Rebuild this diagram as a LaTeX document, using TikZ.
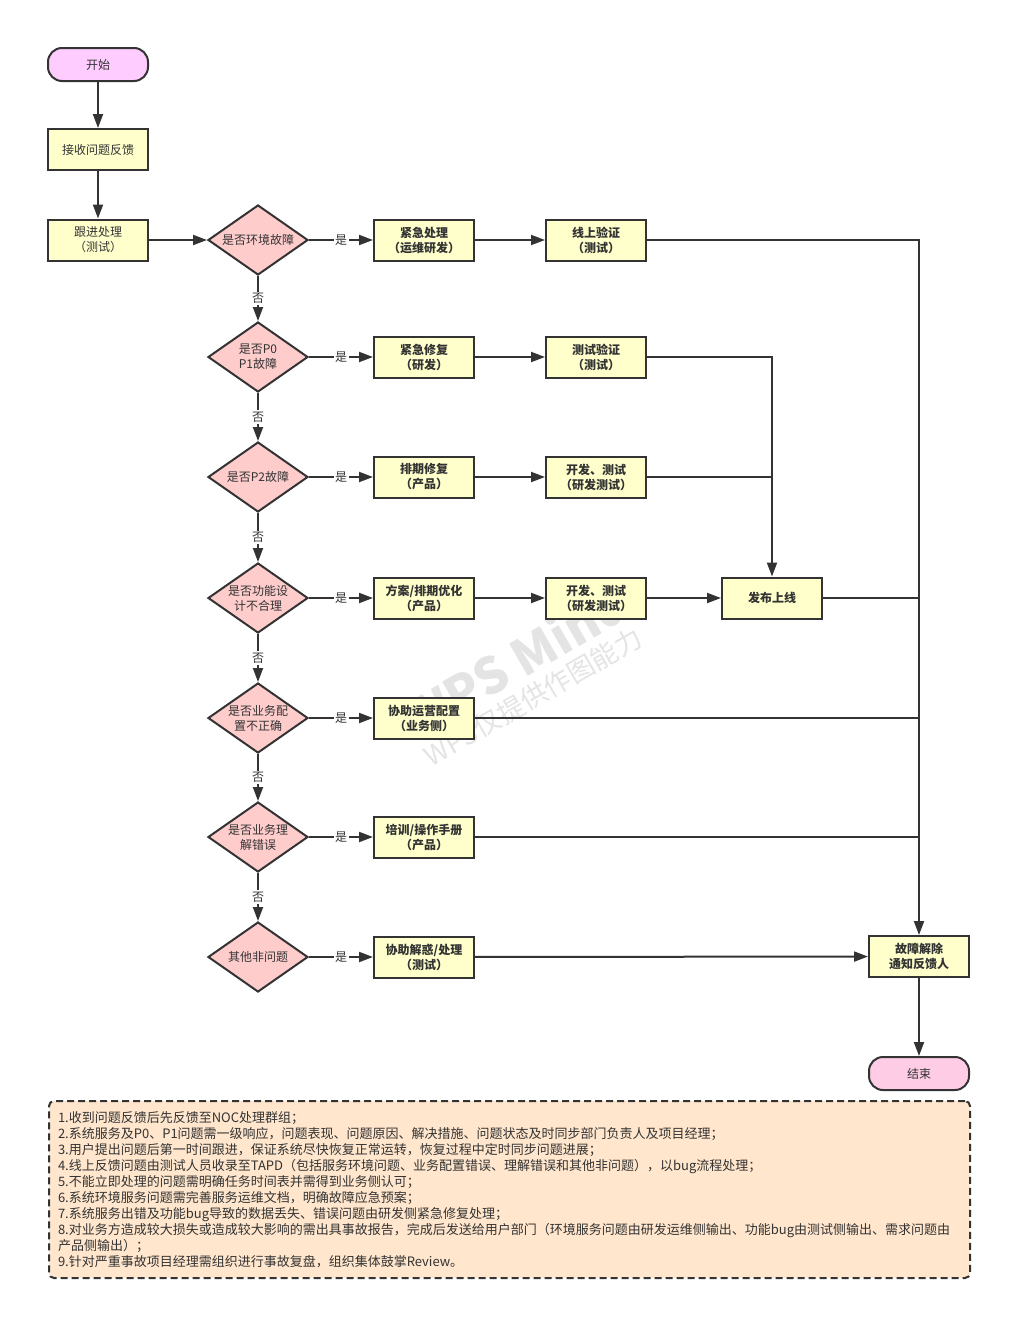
\documentclass[tikz,border=0pt]{standalone}
\usepackage{fontspec}
\setmainfont{Noto Sans CJK SC}
\usetikzlibrary{shapes.geometric,arrows.meta}
\definecolor{linec}{HTML}{333333}
\definecolor{boxc}{HTML}{FFFFCC}
\definecolor{diac}{HTML}{FFCCCC}
\definecolor{startc}{HTML}{FFCCFF}
\definecolor{endc}{HTML}{FFCCE6}
\definecolor{notec}{HTML}{FFE6CC}
\definecolor{wmc}{HTML}{E4E4E4}
\newcommand{\fsz}[2]{\fontsize{#1}{#2}\selectfont}
\begin{document}
\begin{tikzpicture}[x=1pt,y=-1pt,
  line width=2pt, draw=linec, text=linec,
  arr/.style={draw=linec, line width=2pt, -{Triangle[length=14pt,width=10pt]}},
  conn/.style={draw=linec, line width=2pt},
  plain/.style={rectangle, draw=linec, line width=2pt, fill=boxc, minimum width=100pt, minimum height=41pt, inner sep=0pt, align=center, font=\fsz{12}{15}},
  boldbox/.style={plain, font=\bfseries\fsz{12}{15}},
  term/.style={rectangle, rounded corners=14pt, draw=linec, line width=2pt, minimum width=100pt, minimum height=33pt, inner sep=0pt, font=\fsz{12}{15}},
  dia/.style={diamond, draw=linec, line width=2pt, fill=diac, minimum width=100pt, minimum height=70pt, inner sep=0pt},
  dtext/.style={align=center, font=\fsz{12}{15}, text=linec, inner sep=0pt},
  lab/.style={fill=white, inner sep=1.5pt, font=\fsz{12}{14}, text=linec},
  wm/.style={text=wmc, inner sep=0pt}
]
\useasboundingbox (0,0) rectangle (1031,1339);

% watermark
\node[wm, rotate=30, font=\bfseries\fsz{50}{50}] (wm1) at (515,660) {WPS Mind};
\node[wm, rotate=30, font=\fsz{27}{27}] (wm2) at (533,697) {WPS仅提供作图能力};

% left column
\node[term, fill=startc] (start) at (98,64.5) {开始};
\node[plain] (recv) at (98,149.5) {接收问题反馈};
\node[plain] (follow) at (98,240) {跟进处理\\（测试）};

% diamonds
\node[dia, label={[dtext]center:是否环境故障}] (d1) at (258,240) {};
\node[dia, label={[dtext]center:{是否P0\\P1故障}}] (d2) at (258,357) {};
\node[dia, label={[dtext]center:是否P2故障}] (d3) at (258,477) {};
\node[dia, label={[dtext]center:{是否功能设\\计不合理}}] (d4) at (258,598) {};
\node[dia, label={[dtext]center:{是否业务配\\置不正确}}] (d5) at (258,718) {};
\node[dia, label={[dtext]center:{是否业务理\\解错误}}] (d6) at (258,837) {};
\node[dia, label={[dtext]center:其他非问题}] (d7) at (258,957) {};

% action boxes
\node[boldbox] (b1) at (424,240) {紧急处理\\（运维研发）};
\node[boldbox] (c1) at (596,240) {线上验证\\（测试）};
\node[boldbox] (b2) at (424,357) {紧急修复\\（研发）};
\node[boldbox] (c2) at (596,357) {测试验证\\（测试）};
\node[boldbox] (b3) at (424,477) {排期修复\\（产品）};
\node[boldbox] (c3) at (596,477) {开发、测试\\（研发测试）};
\node[boldbox] (b4) at (424,598) {方案/排期优化\\（产品）};
\node[boldbox] (c4) at (596,598) {开发、测试\\（研发测试）};
\node[boldbox] (rel) at (772,598) {发布上线};
\node[boldbox] (b5) at (424,718) {协助运营配置\\（业务侧）};
\node[boldbox] (b6) at (424,837) {培训/操作手册\\（产品）};
\node[boldbox] (b7) at (424,957) {协助解惑/处理\\（测试）};
\node[boldbox] (fix) at (919,956.5) {故障解除\\通知反馈人};
\node[term, fill=endc] (end) at (919,1073.5) {结束};

% connectors
\draw[arr] (start) -- (recv);
\draw[arr] (recv) -- (follow);
\draw[arr] (follow) -- (d1);
\foreach \i in {1,...,7}{
  \draw[arr] (d\i) -- node[lab] {是} (b\i);
}
\draw[arr] (d1) -- node[lab] {否} (d2);
\draw[arr] (d2) -- node[lab] {否} (d3);
\draw[arr] (d3) -- node[lab] {否} (d4);
\draw[arr] (d4) -- node[lab] {否} (d5);
\draw[arr] (d5) -- node[lab] {否} (d6);
\draw[arr] (d6) -- node[lab] {否} (d7);
\draw[arr] (b1) -- (c1);
\draw[arr] (b2) -- (c2);
\draw[arr] (b3) -- (c3);
\draw[arr] (b4) -- (c4);
\draw[arr] (c4) -- (rel);
\draw[arr] (c1.east) -| (fix.north);
\draw[arr] (c2.east) -| (rel.north);
\draw[conn] (c3.east) -- (c3.east -| rel.north);
\draw[conn] (rel.east) -- (rel.east -| fix.north);
\draw[conn] (b5.east) -- (b5.east -| fix.north);
\draw[conn] (b6.east) -- (b6.east -| fix.north);
\draw[arr] (b7) -- (fix);
\draw[arr] (fix) -- (end);

% notes
\node[draw=linec, line width=2pt, dash pattern=on 7pt off 4pt, rounded corners=5pt, fill=notec,
      anchor=north west, minimum width=921pt, minimum height=177pt, inner xsep=9pt, inner ysep=0pt,
      text width=903pt, align=left, font=\fsz{13}{16}, text=linec] (note) at (48,1100) {%
1.收到问题反馈后先反馈至NOC处理群组；\\
2.系统服务及P0、P1问题需一级响应，问题表现、问题原因、解决措施、问题状态及时同步部门负责人及项目经理；\\
3.用户提出问题后第一时间跟进，保证系统尽快恢复正常运转，恢复过程中定时同步问题进展；\\
4.线上反馈问题由测试人员收录至TAPD（包括服务环境问题、业务配置错误、理解错误和其他非问题），以bug流程处理；\\
5.不能立即处理的问题需明确任务时间表并需得到业务侧认可；\\
6.系统环境服务问题需完善服务运维文档，明确故障应急预案；\\
7.系统服务出错及功能bug导致的数据丢失、错误问题由研发侧紧急修复处理；\\
8.对业务方造成较大损失或造成较大影响的需出具事故报告，完成后发送给用户部门（环境服务问题由研发运维侧输出、功能bug由测试侧输出、需求问题由\\
产品侧输出）；\\
9.针对严重事故项目经理需组织进行事故复盘，组织集体鼓掌Review。};
\end{tikzpicture}
\end{document}
